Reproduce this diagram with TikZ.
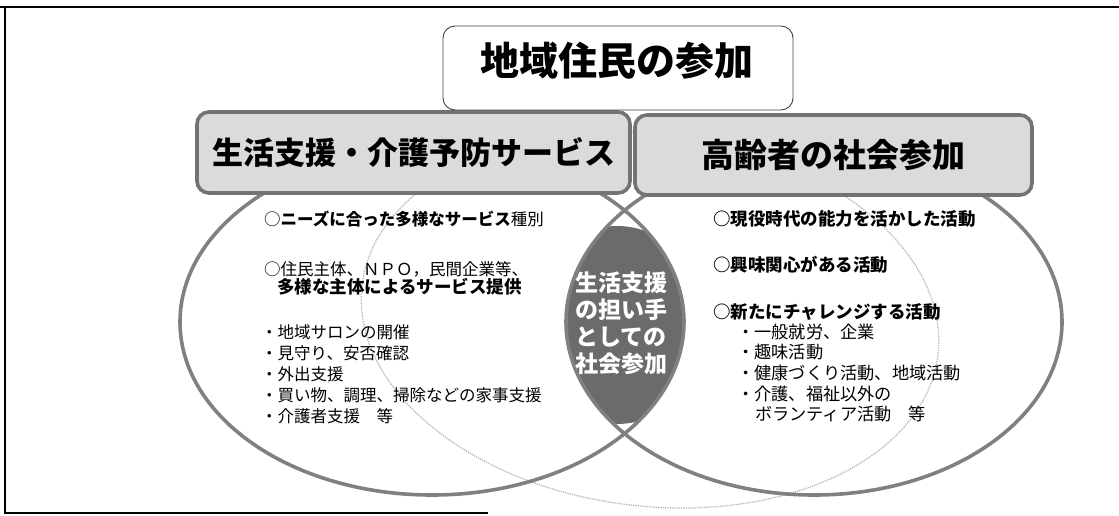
\documentclass[tikz,border=0pt]{standalone}
\usepackage{fontspec}
\setmainfont{Noto Sans CJK JP}
\definecolor{ringgray}{gray}{0.50}
\definecolor{boxfill}{gray}{0.86}
\definecolor{boxedge}{gray}{0.45}
\definecolor{lensfill}{gray}{0.42}
\definecolor{faintgray}{gray}{0.72}
\tikzset{
  frameline/.style={draw=black, line width=1.2pt},
  ring/.style={draw=ringgray, line width=3.6pt},
  faintring/.style={draw=faintgray, line width=1.3pt, densely dotted},
  titlebox/.style={draw=black!75, line width=0.9pt, fill=white, rounded corners=12pt,
    minimum width=350pt, minimum height=84pt, inner sep=0pt},
  titletext/.style={inner sep=0pt, font=\bfseries\fontsize{39}{45}\selectfont},
  catbox/.style={draw=boxedge, line width=3.6pt, fill=boxfill, rounded corners=12pt,
    inner sep=0pt, font=\bfseries},
  txt/.style={anchor=west, inner sep=0pt, text height=0.88em, text depth=0.12em},
  reg/.style={txt, font=\fontsize{16.5}{20}\selectfont},
  regr/.style={txt, font=\fontsize{17.2}{20}\selectfont},
  bld/.style={txt, font=\bfseries\fontsize{17.5}{21}\selectfont},
  lenstext/.style={align=center, text=white, inner sep=0pt,
    font=\bfseries\fontsize{23}{27}\selectfont}
}
\begin{document}
\begin{tikzpicture}[x=1pt,y=-1pt]
\useasboundingbox (0,0) rectangle (1119,515);
% frame
\draw[frameline] (0,7) -- (1119,7);
\draw[frameline] (5,7) -- (5,513) -- (488,513);
% centres
\coordinate (cl) at (432,322);
\coordinate (cr) at (814,322);
\coordinate (cf) at (650,320);
% faint background ring
\draw[faintring, rotate around={-7:(cf)}] (cf) ellipse [x radius=290pt, y radius=186pt];
% dark lens
\begin{scope}
  \clip (cl) ellipse [x radius=252pt, y radius=173pt];
  \clip (617,325) ellipse [x radius=90pt, y radius=99pt];
  \fill[lensfill] (cr) ellipse [x radius=248pt, y radius=173pt];
\end{scope}
% rings
\draw[ring] (cl) ellipse [x radius=252pt, y radius=173pt];
\draw[ring] (cr) ellipse [x radius=248pt, y radius=173pt];
% category boxes
\node[catbox, minimum width=433pt, minimum height=81pt,
      font=\bfseries\fontsize{31}{36}\selectfont] (lbox) at (413.5,152.5) {生活支援・介護予防サービス};
\node[catbox, minimum width=397pt, minimum height=80pt,
      font=\bfseries\fontsize{33}{38}\selectfont] (rbox) at (833.5,155) {高齢者の社会参加};
% title
\node[titlebox] (title) at (618,68) {};
\node[titletext] (titlelabel) at (617,61) {地域住民の参加};
% left texts
\node[reg] (l1) at (264,222) {○\textbf{ニーズに合った多様なサービス}種別};
\node[reg] (l2) at (264,272) {○住民主体、ＮＰＯ，民間企業等、};
\node[bld] (l3) at (277,290) {多様な主体によるサービス提供};
\node[reg] (l4) at (261,335) {・地域サロンの開催};
\node[reg] (l5) at (261,356) {・見守り、安否確認};
\node[reg] (l6) at (261,377) {・外出支援};
\node[reg] (l7) at (261,398) {・買い物、調理、掃除などの家事支援};
\node[reg] (l8) at (261,419) {・介護者支援　等};
% lens text
\node[lenstext] (lens) at (621,323) {生活支援\\の担い手\\としての\\社会参加};
% right texts
\node[bld] (r1) at (713,222) {○現役時代の能力を活かした活動};
\node[bld] (r2) at (713,268) {○興味関心がある活動};
\node[bld] (r3) at (713,315) {○新たにチャレンジする活動};
\node[regr] (r4) at (737,335) {・一般就労、企業};
\node[regr] (r5) at (737,355) {・趣味活動};
\node[regr] (r6) at (737,376) {・健康づくり活動、地域活動};
\node[regr] (r7) at (737,397) {・介護、福祉以外の};
\node[regr] (r8) at (755,417) {ボランティア活動　等};
\end{tikzpicture}
\end{document}
